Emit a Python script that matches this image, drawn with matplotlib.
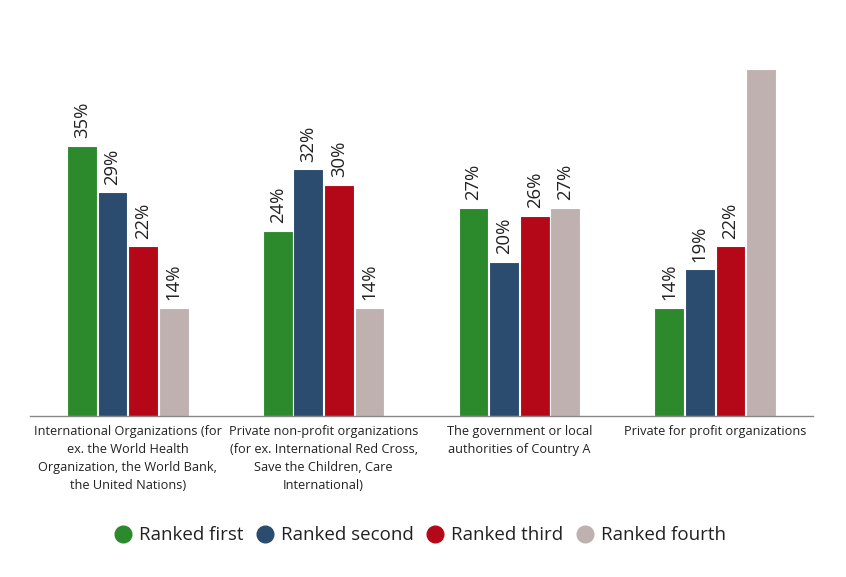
import matplotlib
matplotlib.use("Agg")
import matplotlib.pyplot as plt
from matplotlib.lines import Line2D
import numpy as np

plt.rcParams['font.family'] = ['Open Sans', 'DejaVu Sans']

categories = [
    "International Organizations (for\nex. the World Health\nOrganization, the World Bank,\nthe United Nations)",
    "Private non-profit organizations\n(for ex. International Red Cross,\nSave the Children, Care\nInternational)",
    "The government or local\nauthorities of Country A",
    "Private for profit organizations",
]
series_names = ["Ranked first", "Ranked second", "Ranked third", "Ranked fourth"]
ranked_first = [35, 24, 27, 14]
ranked_second = [29, 32, 20, 19]
ranked_third = [22, 30, 26, 22]
ranked_fourth = [14, 14, 27, 45]
colors = ["#2c892c", "#2b4b6f", "#b40818", "#bfb1b0"]

series = [ranked_first, ranked_second, ranked_third, ranked_fourth]

fig = plt.figure(figsize=(8.46, 5.77), dpi=100)
ax = fig.add_axes([30/846, 1-416/577, 783/846, (416-69)/577])

x = np.arange(len(categories))
pitch = 0.156
width = 0.152
for i, (vals, col) in enumerate(zip(series, colors)):
    pos = x + (i - 1.5) * pitch
    ax.bar(pos, vals, width=width, color=col, edgecolor="white", linewidth=0.8, zorder=2)
    for xp, v in zip(pos, vals):
        ax.annotate(f"{v}%", xy=(xp, v), xytext=(0, 5.5), textcoords="offset points",
                    rotation=90, ha="center", va="bottom", fontsize=13.3, color="#222222",
                    annotation_clip=True, clip_on=True)

ax.set_xlim(-0.5, 3.5)
ax.set_ylim(0, 45)
ax.set_yticks([])
for s in ["top", "right", "left"]:
    ax.spines[s].set_visible(False)
ax.spines["bottom"].set_color("#888888")
ax.spines["bottom"].set_linewidth(1)
ax.set_xticks(x)
ax.set_xticklabels(categories, fontsize=9.2, color="#222222", linespacing=1.5)
ax.tick_params(axis="x", length=0, pad=6.5)

handles = [Line2D([0], [0], marker="o", linestyle="", markersize=12,
                  markerfacecolor=c, markeredgecolor=c) for c in colors]
fig.legend(handles, series_names, loc="center", bbox_to_anchor=(0.495, 0.072), ncol=4,
           frameon=False, fontsize=13.5, handletextpad=0.25, columnspacing=0.55,
           handlelength=1.2, labelcolor="#222222")

fig.savefig("out.png", dpi=100)
